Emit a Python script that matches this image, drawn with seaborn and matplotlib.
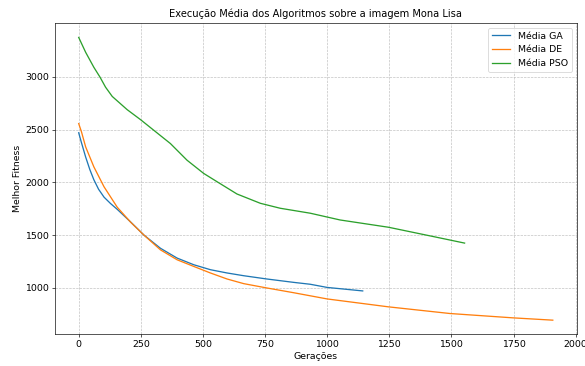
import matplotlib
matplotlib.use("Agg")
import matplotlib.pyplot as plt
import seaborn as sns
import pandas as pd

ga_x = [0, 10, 28, 45, 61, 80, 102, 128, 155, 209, 263, 329, 396, 463, 530, 597, 664, 757, 865, 932, 1000, 1143]
ga_y = [2470, 2385, 2240, 2120, 2025, 1935, 1860, 1800, 1745, 1625, 1500, 1376, 1283, 1220, 1173, 1142, 1116, 1085, 1053, 1035, 1005, 972]

de_x = [0, 11, 28, 61, 102, 155, 209, 263, 329, 396, 463, 530, 597, 664, 757, 865, 1000, 1247, 1494, 1747, 1908]
de_y = [2557, 2480, 2336, 2147, 1958, 1765, 1623, 1500, 1361, 1267, 1204, 1142, 1085, 1041, 1000, 955, 896, 821, 758, 717, 695]

pso_x = [0, 28, 61, 86, 108, 135, 195, 249, 302, 369, 436, 503, 557, 637, 731, 811, 932, 1052, 1247, 1427, 1553]
pso_y = [3373, 3232, 3090, 2996, 2902, 2814, 2689, 2594, 2494, 2368, 2210, 2085, 2006, 1890, 1802, 1755, 1708, 1644, 1575, 1487, 1425]

labels = ["Média GA", "Média DE", "Média PSO"]

frames = []
for lab, xs, ys in zip(labels, [ga_x, de_x, pso_x], [ga_y, de_y, pso_y]):
    frames.append(pd.DataFrame({"Gerações": xs, "Melhor Fitness": ys, "serie": lab}))
df = pd.concat(frames, ignore_index=True)

fig = plt.figure(figsize=(10, 366 / 58.5), dpi=58.5)
ax = fig.add_axes([55 / 585, 1 - 334.3 / 366, (576.5 - 55) / 585, (334.3 - 23.3) / 366])
sns.lineplot(data=df, x="Gerações", y="Melhor Fitness", hue="serie", ax=ax,
             palette=["#1f77b4", "#ff7f0e", "#2ca02c"], sort=False, linewidth=1.6)
ax.set_title("Execução Média dos Algoritmos sobre a imagem Mona Lisa", fontsize=12.2, pad=8)
ax.set_xlabel("Gerações", fontsize=11.5)
ax.set_ylabel("Melhor Fitness", fontsize=11.5)
ax.tick_params(labelsize=11.5)
ax.grid(True, linestyle="--", color="#b0b0b0", alpha=0.8)
ax.set_xticks([0, 250, 500, 750, 1000, 1250, 1500, 1750, 2000])
ax.set_yticks([1000, 1500, 2000, 2500, 3000])
ax.legend(title=None, loc="upper right", fontsize=11.5)
fig.savefig("out.png", dpi=58.5)
